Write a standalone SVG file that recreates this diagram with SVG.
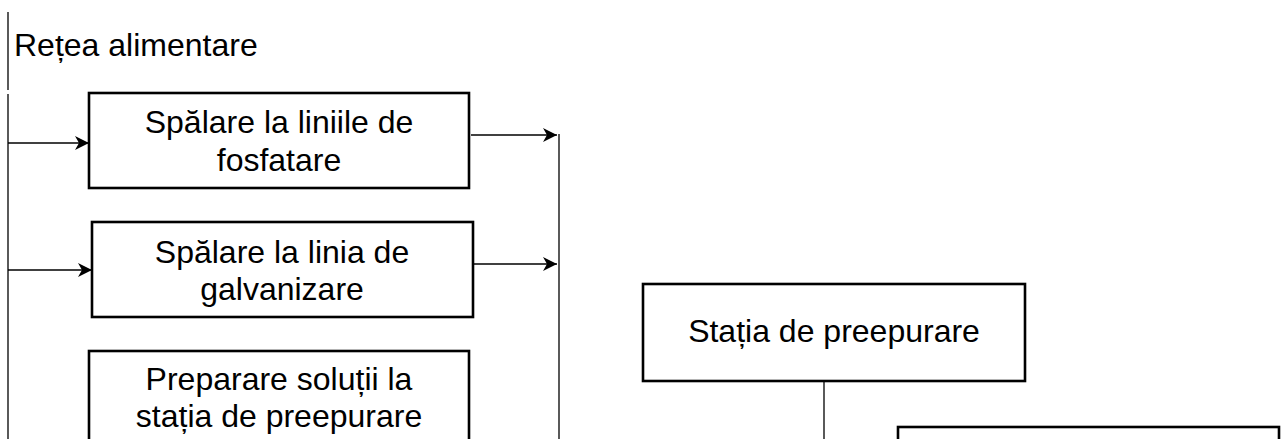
<svg xmlns="http://www.w3.org/2000/svg" width="1285" height="439" viewBox="0 0 1285 439">
  <style>
    .box { fill: #ffffff; stroke: #000000; stroke-width: 2.6; }
    .lbl { font-family: "Liberation Sans", Arial, sans-serif; font-size: 32px; fill: #000000; text-anchor: middle; }
    .conn { fill: none; stroke: #000000; stroke-width: 1.3; }
  </style>
  <defs>
    <marker id="arrow" markerUnits="userSpaceOnUse" markerWidth="16" markerHeight="16" refX="14" refY="7" orient="auto">
      <path d="M0,0 L14,7 L0,14 L4,7 Z" fill="#000000"/>
    </marker>
  </defs>
  <rect width="1285" height="439" fill="#ffffff"/>

  <g id="connectors">
    <line class="conn" x1="8" y1="12" x2="8" y2="90"/>
    <line class="conn" x1="8" y1="94" x2="8" y2="439"/>
    <line class="conn" x1="8" y1="143" x2="89" y2="143" marker-end="url(#arrow)"/>
    <line class="conn" x1="8" y1="270" x2="92" y2="270" marker-end="url(#arrow)"/>
    <line class="conn" x1="471" y1="135" x2="557" y2="135" marker-end="url(#arrow)"/>
    <line class="conn" x1="473" y1="264" x2="557" y2="264" marker-end="url(#arrow)"/>
    <line class="conn" x1="559" y1="134" x2="559" y2="439"/>
    <line class="conn" x1="824" y1="381" x2="824" y2="439"/>
  </g>

  <g id="label-retea">
    <text x="14" y="56" font-family="Liberation Sans, Arial, sans-serif" font-size="32" fill="#000000">Rețea alimentare</text>
  </g>

  <g id="node-fosfatare">
    <rect class="box" x="89" y="93" width="380" height="95"/>
    <text class="lbl" x="279" y="133">Spălare la liniile de</text>
    <text class="lbl" x="279" y="171">fosfatare</text>
  </g>

  <g id="node-galvanizare">
    <rect class="box" x="92" y="222" width="381" height="95"/>
    <text class="lbl" x="282" y="263">Spălare la linia de</text>
    <text class="lbl" x="282" y="300">galvanizare</text>
  </g>

  <g id="node-preparare">
    <rect class="box" x="89" y="351" width="380" height="95"/>
    <text class="lbl" x="279" y="390">Preparare soluții la</text>
    <text class="lbl" x="279" y="427">stația de preepurare</text>
  </g>

  <g id="node-statia">
    <rect class="box" x="643" y="284" width="382" height="97"/>
    <text class="lbl" x="834" y="342">Stația de preepurare</text>
  </g>

  <g id="node-bottom-right">
    <rect class="box" x="898" y="427" width="381" height="40"/>
  </g>
</svg>
